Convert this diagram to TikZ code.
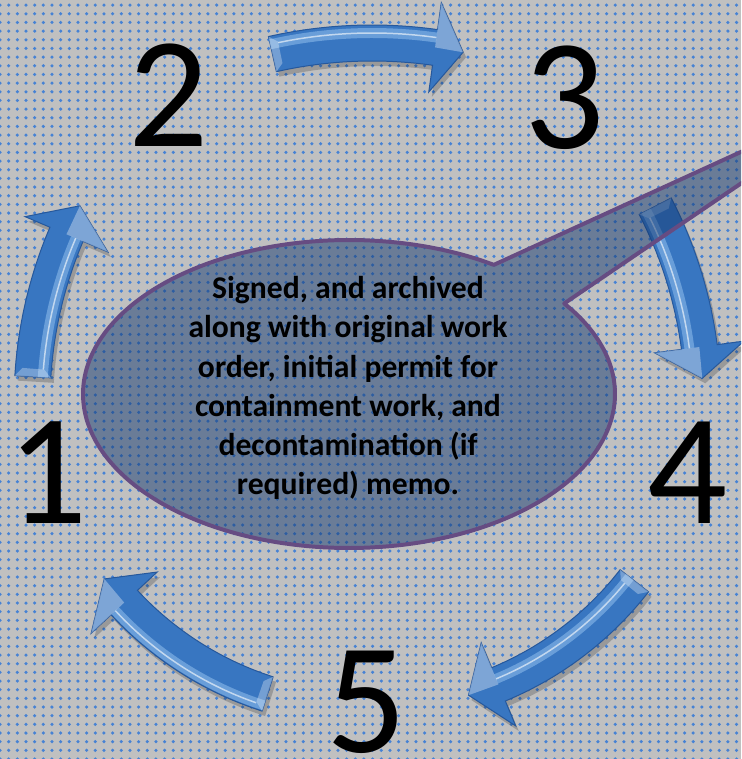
\documentclass[tikz,border=0pt]{standalone}
\usepackage{fontspec}
\setmainfont{Carlito}
\usetikzlibrary{patterns.meta}

\definecolor{bggray}{RGB}{192,192,192}
\definecolor{dotblue}{RGB}{70,130,212}
\definecolor{arrowblue}{RGB}{56,118,193}
\definecolor{arrowdark}{RGB}{38,88,156}
\definecolor{arrowlight}{RGB}{180,220,255}
\definecolor{calloutfill}{RGB}{22,58,112}
\definecolor{calloutline}{RGB}{102,76,130}

\def\pxl{0.5669pt}

\tikzset{
  digit/.style={font=\fontsize{90}{90}\selectfont, inner sep=0, anchor=base},
  arrowbody/.style={fill=arrowblue, draw=arrowdark, line width=1*\pxl},
  callout/.style={fill=calloutfill, fill opacity=0.5, draw=calloutline, line width=4*\pxl, line join=round},
  memo/.style={font=\bfseries\fontsize{18}{22.3}\selectfont, align=center, inner sep=0}
}

% curved arrow: centre x, centre y, radius, tail angle, head angle, tip angle, shine offset, lit barb
\newcommand{\curvedarrow}[8]{%
  \begin{scope}[shift={(#1,#2)}]
    \def\arrowpath{plot[smooth,domain=#4:#5,samples=15] (\x:{#3+18}) -- (#5:{#3+45}) -- (#6:#3) -- (#5:{#3-45}) -- plot[smooth,domain=#5:#4,samples=15] (\x:{#3-18}) -- cycle}
    \pgfmathsetmacro\tailb{#4+sign(#5-#4)*8/#3*57.3}
    \fill[black,opacity=0.2,shift={(3,5)}] \arrowpath;
    \filldraw[arrowbody] \arrowpath;
    \draw[arrowlight,opacity=0.4,line width=10*\pxl] plot[smooth,domain=#4:#5,samples=15] (\x:{#3+#7});
    \draw[white,opacity=0.6,line width=1.5*\pxl] plot[smooth,domain=\tailb:#5,samples=15] (\x:{#3+#7});
    \fill[white,opacity=0.3] (#4:{#3+18}) -- (\tailb:{#3+11}) -- (\tailb:{#3-11}) -- (#4:{#3-18}) -- cycle;
    \fill[white,opacity=0.35] (#6:#3) -- (#5:{#3+#8}) -- (#5:#3) -- cycle;
  \end{scope}}

\begin{document}
\begin{tikzpicture}[x=0.02cm,y=-0.02cm]
  \useasboundingbox (0,0) rectangle (741,759);
  \clip (0,0) rectangle (741,759);

  % Draw the dotted background
  \fill[bggray] (0,0) rectangle (741,759);
  \fill[pattern={Dots[radius=1pt,distance=8.7*\pxl]}, pattern color=dotblue] (0,0) rectangle (741,759);

  % Draw the cycle arrows
  \curvedarrow{462}{403}{430}{-176.5}{-156.9}{-152.7}{-10}{-45}
  \curvedarrow{372}{496}{453}{-102.7}{-82.0}{-78.4}{10}{45}
  \curvedarrow{274}{403}{429}{-27.3}{-7.5}{-3.3}{-10}{-45}
  \curvedarrow{370}{375}{335}{37.9}{67.45}{72.9}{-6}{-45}
  \curvedarrow{370}{375}{335}{107.8}{137.2}{142.5}{12}{45}

  % Draw the step numbers
  \node[digit] (n1) at (48,523) {1};
  \node[digit] (n2) at (169,147) {2};
  \node[digit] (n3) at (565,149) {3};
  \node[digit] (n4) at (688,523) {4};
  \node[digit] (n5) at (367,752) {5};

  % Draw the callout
  \coordinate (tip) at (883,87);
  \draw[callout] (tip) -- plot[smooth,domain=-36:303,samples=90] ({349+266*cos(\x)},{394+154*sin(\x)}) -- cycle;

  \node[memo] (text) at (348,388) {Signed, and archived\\along with original work\\order, initial permit for\\containment work, and\\decontamination (if\\required) memo.};
\end{tikzpicture}
\end{document}
